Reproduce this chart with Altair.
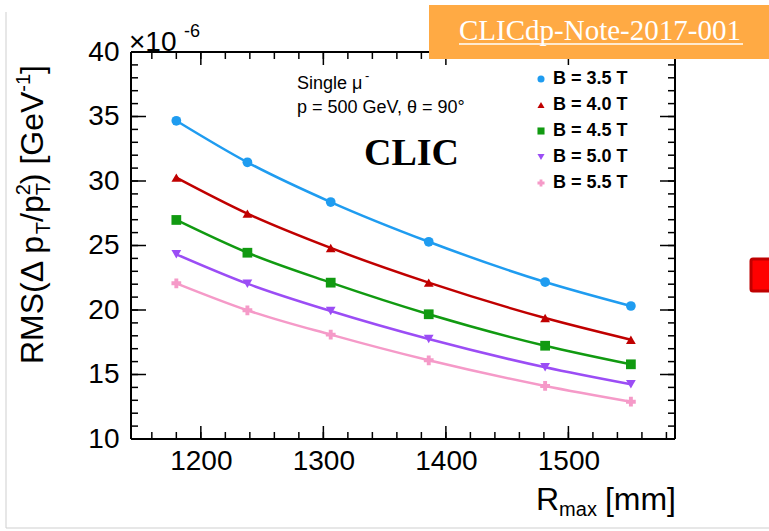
import altair as alt
import pandas as pd

# Momentum resolution vs. tracker outer radius, single muons, p = 500 GeV, theta = 90 deg
r_max = [1180, 1238, 1306, 1386, 1481, 1551]
rms_b35 = [34.67, 31.45, 28.37, 25.29, 22.17, 20.31]
rms_b40 = [30.26, 27.47, 24.81, 22.12, 19.38, 17.70]
rms_b45 = [26.98, 24.44, 22.12, 19.67, 17.23, 15.79]
rms_b50 = [24.32, 22.04, 19.92, 17.75, 15.56, 14.24]
rms_b55 = [22.07, 19.98, 18.09, 16.10, 14.11, 12.89]

field_labels = ["B = 3.5 T", "B = 4.0 T", "B = 4.5 T", "B = 5.0 T", "B = 5.5 T"]
series_colors = ["#1f9cf0", "#c00000", "#119a11", "#9b4df5", "#f59ac8"]
series_shapes = ["circle", "triangle-up", "square", "triangle-down", "cross"]

x_major = [1200, 1300, 1400, 1500]
x_minor = [1160 + 20 * i for i in range(22)]
y_major = [10, 15, 20, 25, 30, 35, 40]
y_minor = list(range(10, 41))

X_DOMAIN = [1143, 1587]
Y_DOMAIN = [10, 40]

# plot-area geometry (pixels)
OX, OY = 131, 52
W, H = 544, 387
SANS = "Liberation Sans"
SERIF = "Liberation Serif"

series = [rms_b35, rms_b40, rms_b45, rms_b50, rms_b55]
rows = []
for label, vals in zip(field_labels, series):
    for r, v in zip(r_max, vals):
        rows.append({"R": r, "RMS": v, "B": label})
df = pd.DataFrame(rows)

xs = alt.Scale(domain=X_DOMAIN, nice=False, zero=False)
ys = alt.Scale(domain=Y_DOMAIN, nice=False, zero=False)
cs = alt.Scale(domain=field_labels, range=series_colors)
ss = alt.Scale(domain=field_labels, range=series_shapes)

x_axis = alt.Axis(values=x_major, format="d", title=None, ticks=False, domain=False,
                  grid=False, labelFont=SANS, labelFontSize=28, labelColor="black",
                  labelPadding=8, labelOverlap=False, labelFlush=False)
y_axis = alt.Axis(values=y_major, format="d", title=None, ticks=False, domain=False,
                  grid=False, labelFont=SANS, labelFontSize=28, labelColor="black",
                  labelPadding=12, labelOverlap=False, labelFlush=False)


def xq(field):
    return alt.X(field, type="quantitative", scale=xs, axis=x_axis)


def yq(field):
    return alt.Y(field, type="quantitative", scale=ys, axis=y_axis)


lines = alt.Chart(df).mark_line(interpolate="monotone", strokeWidth=2.5).encode(
    x=xq("R"), y=yq("RMS"),
    color=alt.Color("B:N", scale=cs, legend=None),
    detail="B:N",
)
points = alt.Chart(df).mark_point(filled=True, size=95, opacity=1).encode(
    x=xq("R"), y=yq("RMS"),
    color=alt.Color("B:N", scale=cs, legend=None),
    shape=alt.Shape("B:N", scale=ss, legend=None),
)


# inward ROOT-style ticks on all four sides
def y_ticks(vals, length):
    d = pd.DataFrame({"v": vals})
    left = alt.Chart(d).mark_rule(color="black", strokeWidth=1.5).encode(
        y=yq("v"), x=alt.value(0), x2=alt.value(length))
    right = alt.Chart(d).mark_rule(color="black", strokeWidth=1.5).encode(
        y=yq("v"), x=alt.value(W - length), x2=alt.value(W))
    return [left, right]


def x_ticks(vals, length):
    d = pd.DataFrame({"v": vals})
    bottom = alt.Chart(d).mark_rule(color="black", strokeWidth=1.5).encode(
        x=xq("v"), y=alt.value(H - length), y2=alt.value(H))
    top = alt.Chart(d).mark_rule(color="black", strokeWidth=1.5).encode(
        x=xq("v"), y=alt.value(0), y2=alt.value(length))
    return [bottom, top]


one = alt.Data(values=[{}])


def rule(x, y, x2=None, y2=None, color="black", width=2):
    enc = {"x": alt.value(x), "y": alt.value(y)}
    if x2 is not None:
        enc["x2"] = alt.value(x2)
    if y2 is not None:
        enc["y2"] = alt.value(y2)
    return alt.Chart(one).mark_rule(color=color, strokeWidth=width).encode(**enc)


def txt(s, x, y, size, font=SANS, weight="normal", angle=0, color="black",
        align="left", baseline="alphabetic"):
    return alt.Chart(one).mark_text(
        text=s, font=font, fontSize=size, fontWeight=weight, angle=angle,
        color=color, align=align, baseline=baseline
    ).encode(x=alt.value(x - OX), y=alt.value(y - OY))


# approximate advance widths (1/1000 em) for laying out composite titles
ADV = {"R": 722, "M": 833, "S": 667, "(": 333, ")": 333, "Δ": 668, " ": 278,
       "p": 556, "/": 278, "T": 611, "2": 556, "[": 278, "]": 278, "G": 778,
       "e": 556, "V": 667, "-": 333, "1": 556, "m": 833, "a": 556, "x": 500}


def adv(s, size):
    return sum(ADV.get(c, 556) for c in s) * size / 1000.0


frame = [rule(0, 0, x2=W), rule(0, H, x2=W), rule(0, 0, y2=H), rule(W, 0, y2=H)]

# y-axis title, rotated, built from pieces with sub/superscripts
ytitle = []
yb, ypos = 43, 364
for s, size, shift, step in [("RMS(Δ p", 32, 0, True), ("T", 20, 7, True),
                              ("/p", 32, 0, True), ("T", 20, 7, False),
                              ("2", 20, -13, True), (")", 32, 0, True),
                              ("[GeV", 32, 0, True),
                              ("-1", 20, -13, True), ("]", 32, 0, True)]:
    if s == "[GeV":
        ypos -= adv(" ", 32)
    ytitle.append(txt(s, yb + shift, ypos, size, angle=270))
    if step:
        ypos -= adv(s, size)

# x-axis title
xtitle = []
xpos = 536
for s, size, shift, gap in [("R", 32, 0, 0), ("max", 20, 6, 0), ("[mm]", 32, 0, 8)]:
    xpos += gap
    xtitle.append(txt(s, xpos, 510 + shift, size))
    xpos += adv(s, size)

# legend
legend = []
for i, (lab, col, shp) in enumerate(zip(field_labels, series_colors, series_shapes)):
    yy = 79 + 26 * i
    legend.append(alt.Chart(one).mark_point(shape=shp, filled=True, size=50,
                                            color=col, opacity=1).encode(
        x=alt.value(541 - OX), y=alt.value(yy - OY)))
    legend.append(txt(lab, 553, yy, 18, weight="bold", baseline="middle"))

notes = [
    txt("×10", 129, 51, 28),
    txt("-6", 184, 37, 18),
    txt("Single μ", 297, 89, 18),
    txt("-", 365, 80, 13),
    txt("p = 500 GeV, θ = 90°", 297, 113, 18),
    txt("CLIC", 364, 165, 38, font=SERIF, weight="bold"),
]

# header badge and page decorations
badge = [
    alt.Chart(one).mark_rect(color="#ffaa44").encode(
        x=alt.value(429 - OX), x2=alt.value(769 - OX),
        y=alt.value(5 - OY), y2=alt.value(59 - OY)),
    txt("CLICdp-Note-2017-001", 459, 40, 29, font=SERIF, color="white"),
    rule(459 - OX, 44 - OY, x2=743 - OX, color="white", width=1.5),
]
page = [
    rule(6 - OX, 12 - OY, y2=528 - OY, color="#cfcfcf", width=1),
    rule(6 - OX, 528 - OY, x2=769 - OX, color="#cfcfcf", width=1),
    alt.Chart(one).mark_rect(color="#ff0000", stroke="#c00000", strokeWidth=3,
                             cornerRadius=2).encode(
        x=alt.value(751 - OX), x2=alt.value(772 - OX),
        y=alt.value(259 - OY), y2=alt.value(291 - OY)),
]

layers = (page + [lines, points]
          + y_ticks(y_minor, 7) + y_ticks(y_major, 15)
          + x_ticks(x_minor, 7) + x_ticks(x_major, 13)
          + frame + ytitle + xtitle + legend + notes + badge)

chart = alt.layer(*layers).properties(
    width=W, height=H, autosize="none",
    padding={"left": OX, "top": OY, "right": 769 - OX - W, "bottom": 531 - OY - H},
    background="white",
).configure_view(stroke=None)

chart.save("out.html", embed_options={"renderer": "svg", "actions": False})
